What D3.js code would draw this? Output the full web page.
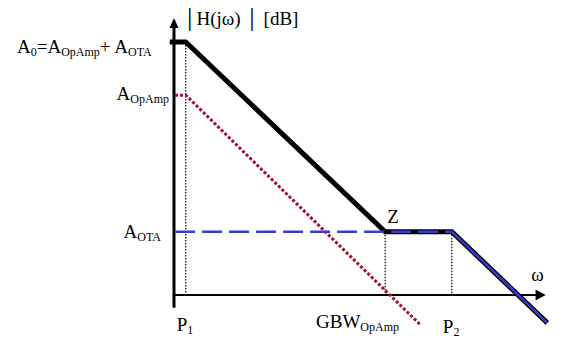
<!DOCTYPE html>
<html>
<head>
<meta charset="utf-8">
<script src="https://cdn.jsdelivr.net/npm/d3@7"></script>
<style>
  body { margin: 0; background: #fff; }
</style>
</head>
<body>
<div id="chart"></div>
<script>
// log10(w) in decades, |H| in dB
const breakNames = ["P1", "Z", "P2"];
const breakW = [0.22, 3.96, 5.21];
const breakDb = [100, 25, 25];

const totalW = [-0.08, 0.22, 3.96, 5.21, 7.0];
const totalDb = [100, 100, 25, 25, -11];

const opampW = [0.02, 0.22, 4.63];
const opampDb = [79, 79, -12];

const otaW = [0.02, 5.21];
const otaDb = [25, 25];
const otaTailW = [5.21, 7.0];
const otaTailDb = [25, -11];

const levelNames = ["A0", "AOpAmp", "AOTA"];
const levelDb = [100, 79, 25];

var width = 562, height = 340;
const x = d3.scaleLinear().domain([0, 7]).range([174, 547.3]);
const y = d3.scaleLinear().domain([0, 100]).range([295, 42]);

const svg = d3.select("#chart").append("svg")
    .attr("width", width)
    .attr("height", height);

const line = d3.line().x(d => x(d[0])).y(d => y(d[1]));
const zip = (a, b) => a.map((v, i) => [v, b[i]]);

// dotted verticals at break frequencies
svg.append("g")
  .selectAll("line")
  .data(breakW)
  .join("line")
    .attr("x1", d => x(d)).attr("x2", d => x(d))
    .attr("y1", (d, i) => y(breakDb[i])).attr("y2", y(0))
    .attr("stroke", "#000")
    .attr("stroke-width", 1.2)
    .attr("stroke-dasharray", "1.5,1.5");

// axes
svg.append("line")
  .attr("x1", x(0)).attr("x2", x(0))
  .attr("y1", y(-5)).attr("y2", y(106))
  .attr("stroke", "#000").attr("stroke-width", 3);
svg.append("path")
  .attr("d", `M${x(0)},18 L${x(0) - 4.5},28 L${x(0) + 4.5},28 Z`)
  .attr("fill", "#000");
svg.append("line")
  .attr("x1", x(-0.02)).attr("x2", x(6.85))
  .attr("y1", y(0)).attr("y2", y(0))
  .attr("stroke", "#000").attr("stroke-width", 2.2);
svg.append("path")
  .attr("d", `M${x(6.97)},${y(0)} L${x(6.78)},${y(0) - 5.5} L${x(6.78)},${y(0) + 5.5} Z`)
  .attr("fill", "#000");

// op amp asymptote (red dotted)
svg.append("path")
  .attr("d", line(zip(opampW, opampDb)))
  .attr("fill", "none")
  .attr("stroke", "#a3112e")
  .attr("stroke-width", 3)
  .attr("stroke-dasharray", "3,2");

// total response (thick black)
svg.append("path")
  .attr("d", line(zip(totalW, totalDb)))
  .attr("fill", "none")
  .attr("stroke", "#000")
  .attr("stroke-width", 5);

// OTA asymptote (blue)
svg.append("path")
  .attr("d", line(zip(otaW, otaDb)))
  .attr("fill", "none")
  .attr("stroke", "#3b3bcf")
  .attr("stroke-width", 2.6)
  .attr("stroke-dasharray", "20,7");
svg.append("path")
  .attr("d", line(zip(otaTailW, otaTailDb)))
  .attr("fill", "none")
  .attr("stroke", "#3b3bcf")
  .attr("stroke-width", 2.4);

// labels with subscripts
const font = "Liberation Serif";
const fs = 19, sub = 12;
function label(xp, yp, parts, anchor) {
  const t = svg.append("text")
    .attr("x", xp).attr("y", yp)
    .attr("font-family", font)
    .attr("font-size", fs)
    .attr("text-anchor", anchor || "start");
  parts.forEach(p => {
    t.append("tspan")
      .attr("font-size", p[1] ? sub : fs)
      .attr("dy", p[1] ? 3 : (p[2] ? -3 : 0))
      .text(p[0]);
  });
  return t;
}

label(17, 53, [["A"], ["0", 1], ["=A", 0, 1], ["OpAmp", 1], ["+ A", 0, 1], ["OTA", 1]]);
label(x(0) - 5, y(levelDb[1]) + 5, [["A"], ["OpAmp", 1]], "end");
label(x(0) - 13, y(levelDb[2]) + 6, [["A"], ["OTA", 1]], "end");

svg.append("text").attr("x", 183).attr("y", 25)
  .attr("font-family", font).attr("font-size", fs)
  .text("\u2502H(j\u03c9) \u2502  [dB]");

svg.append("text").attr("x", x(breakW[1]) + 2).attr("y", y(breakDb[1]) - 9)
  .attr("font-family", font).attr("font-size", fs).text("Z");
svg.append("text").attr("x", x(6.7)).attr("y", y(0) - 14)
  .attr("font-family", font).attr("font-size", fs).text("\u03c9");

label(x(breakW[0]) - 9, 331, [["P"], ["1", 1]]);
label(316, 328, [["GBW"], ["OpAmp", 1]]);
label(x(breakW[2]) - 9, 333, [["P"], ["2", 1]]);
</script>
</body>
</html>
